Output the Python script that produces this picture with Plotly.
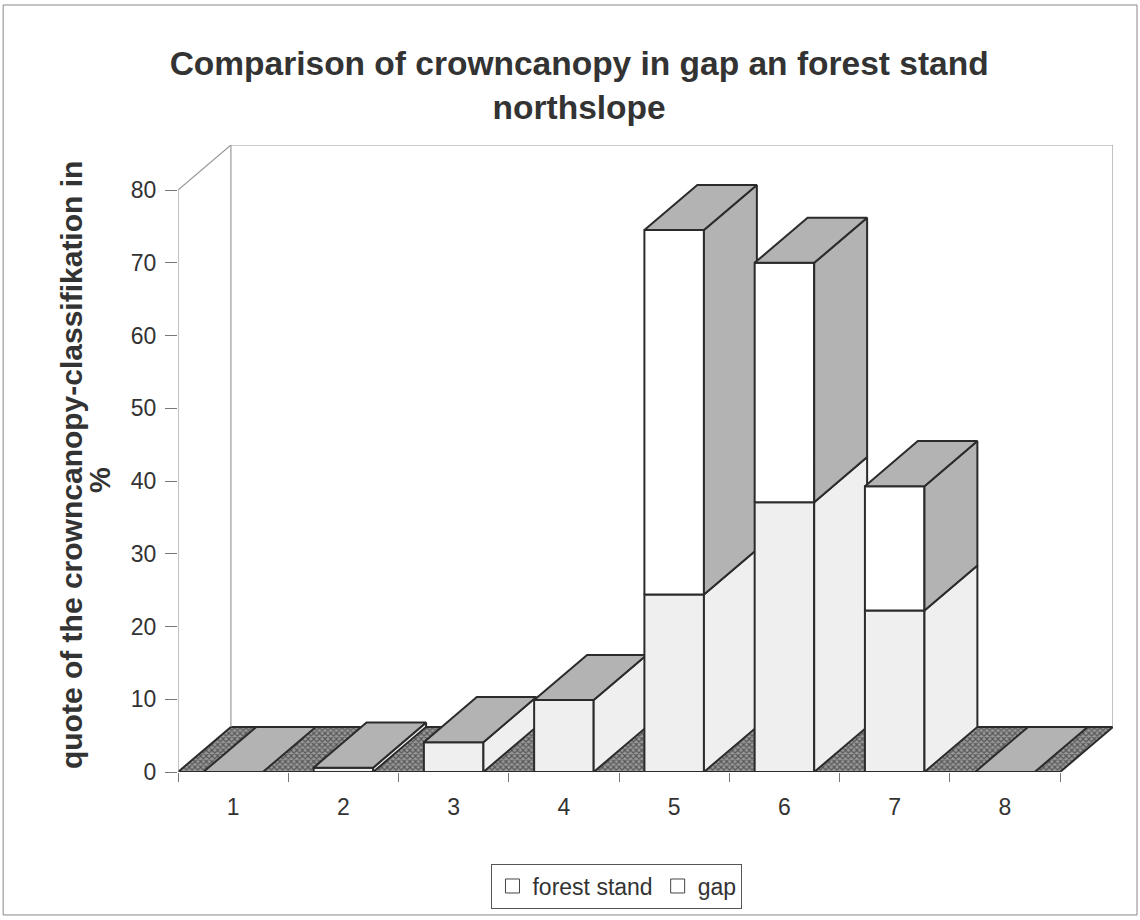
import plotly.graph_objects as go

# ---- data ----
categories = ["1", "2", "3", "4", "5", "6", "7", "8"]
forest_stand = [0, 0.6, 4.1, 9.9, 24.4, 37.1, 22.2, 0]
gap = [0, 0, 0, 0, 50.1, 32.9, 17.1, 0]
y_ticks = [0, 10, 20, 30, 40, 50, 60, 70, 80]

# ---- 3D look parameters (oblique projection) ----
DX = 0.48   # depth offset in category units
DY = 6.2    # depth offset in value units
W = 0.27    # half bar width
EDGE = "#2b2b2b"
C_FOREST = "#efefef"
C_GAP_FRONT = "#ffffff"
C_DARK = "#b3b3b3"
FONT = "Liberation Sans, Arial, sans-serif"

n = len(categories)
xpos = list(range(1, n + 1))
xmin, xmax = 0.5, n + 0.5
ymax = y_ticks[-1]

fig = go.Figure()


def poly(xs, ys, fill, width=2, color=EDGE, pattern=None):
    kw = dict(x=xs + [xs[0]], y=ys + [ys[0]], mode="lines", fill="toself",
              fillcolor=fill, line=dict(color=color, width=width),
              hoverinfo="skip", showlegend=False)
    if pattern:
        kw["fillpattern"] = pattern
    fig.add_trace(go.Scatter(**kw))


def frame_line(xs, ys):
    fig.add_trace(go.Scatter(x=xs, y=ys, mode="lines",
                             line=dict(color="#9a9a9a", width=1.2),
                             hoverinfo="skip", showlegend=False))


# floor
poly([xmin, xmax, xmax + DX, xmin + DX], [0, 0, DY, DY], "#6a6a6a",
     pattern=dict(shape="x", fgcolor="#111111", bgcolor="#9a9a9a", size=4, solidity=0.5))

# walls (frame)
frame_line([xmin, xmin, xmin + DX, xmax + DX, xmax + DX], [0, ymax, ymax + DY, ymax + DY, DY])
frame_line([xmin + DX, xmin + DX], [DY, ymax + DY])

# bars, drawn left to right
for c, f, g in zip(xpos, forest_stand, gap):
    segs = []
    if f > 0:
        segs.append((0, f, C_FOREST, C_FOREST))
    if g > 0:
        segs.append((f, f + g, C_GAP_FRONT, C_DARK))
    for y0, y1, cf, cs in segs:
        poly([c - W, c + W, c + W, c - W], [y0, y0, y1, y1], cf)
        poly([c + W, c + W + DX, c + W + DX, c + W], [y0, y0 + DY, y1 + DY, y1], cs)
    top = f + g
    poly([c - W, c + W, c + W + DX, c - W + DX], [top, top, top + DY, top + DY], C_DARK)

# legend entries
for name in ["forest stand", "gap"]:
    fig.add_trace(go.Scatter(x=[None], y=[None], mode="markers", name=name,
                             marker=dict(symbol="square", size=14, color="white",
                                         line=dict(color="#444", width=1))))

fig.update_layout(
    width=1140, height=920,
    margin=dict(l=178, r=27, t=145, b=148),
    paper_bgcolor="white", plot_bgcolor="white",
    font=dict(family=FONT, color="#333"),
    title=dict(text="<b>Comparison of crowncanopy in gap an forest stand<br>northslope</b>",
               x=0.508, xanchor="center", y=1 - 75 / 920, yanchor="top",
               font=dict(size=33.5, color="#333", family=FONT)),
    showlegend=True,
    legend=dict(orientation="h", x=0.4695, xanchor="center", y=-0.146, yanchor="top",
                bordercolor="#555", borderwidth=1, bgcolor="white",
                font=dict(size=23, color="#333", family=FONT), itemwidth=30),
    xaxis=dict(range=[xmin, xmax + DX], showgrid=False, zeroline=False, showline=False,
               tickmode="array", tickvals=xpos, ticktext=categories,
               ticks="outside", ticklen=14, tickcolor="rgba(0,0,0,0)",
               tickfont=dict(size=23, color="#333"),
               minor=dict(tickmode="array", tickvals=[v + 0.5 for v in range(0, n + 1)],
                          ticks="outside", ticklen=9, tickcolor="#777", tickwidth=1)),
    yaxis=dict(range=[0, ymax + DY], showgrid=False, zeroline=False, showline=False,
               tickmode="array", tickvals=y_ticks, ticks="outside", ticklen=12,
               tickcolor="#777", tickwidth=1, ticklabelstandoff=4,
               tickfont=dict(size=23, color="#333")),
    annotations=[
        dict(text="<b>quote of the crowncanopy-classifikation in</b>",
             xref="paper", yref="paper", x=-0.1144, y=0.4896,
             xanchor="center", yanchor="middle", textangle=-90, showarrow=False,
             font=dict(size=30, color="#333", family=FONT)),
        dict(text="<b>%</b>",
             xref="paper", yref="paper", x=-0.0835, y=0.4657,
             xanchor="center", yanchor="middle", textangle=-90, showarrow=False,
             font=dict(size=29, color="#333", family=FONT)),
    ],
    shapes=[dict(type="rect", xref="paper", yref="paper",
                 x0=-0.187, x1=1.0257, y0=-0.228, y1=1.2233,
                 line=dict(color="#888", width=1), layer="below")],
)

fig.write_html("out.html")
